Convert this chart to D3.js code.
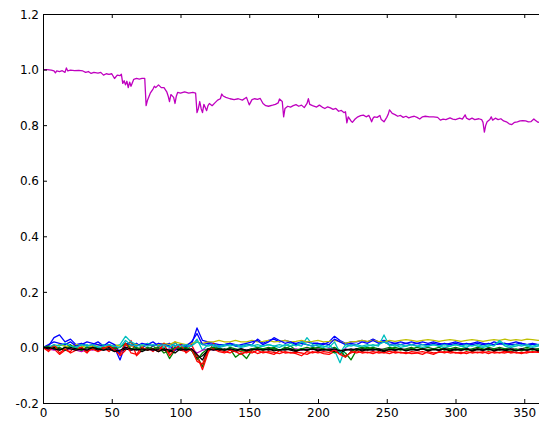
<!DOCTYPE html>
<html><head><meta charset="utf-8">
<script src="https://cdn.jsdelivr.net/npm/d3@7"></script>
<style>
html,body{margin:0;padding:0;background:#fff;overflow:hidden;}
svg{display:block;}
text{font-family:"DejaVu Sans",sans-serif;font-size:12px;fill:#000;}
</style></head>
<body>
<svg id="chart" width="539" height="421"></svg>
<script>
const xTicks = [0, 50, 100, 150, 200, 250, 300, 350];
const xTickLabels = ["0", "50", "100", "150", "200", "250", "300", "350"];
const yTicks = [1.2, 1.0, 0.8, 0.6, 0.4, 0.2, 0.0, -0.2];
const yTickLabels = ["1.2", "1.0", "0.8", "0.6", "0.4", "0.2", "0.0", "-0.2"];

const mainDays = [0,3,6,8,9,10,12,14,16,17,18,20,23,26,29,31,33,35,37,40,42,44,46,48,50,52,54,56,57,58,59,60,61,62,63,64,66,68,70,72,74,75,76,78,80,81,82,84,86,88,90,91,92,93,95,96,97,98,100,103,106,109,111,112,113,114,115,116,117,119,120,121,123,125,127,129,130,131,133,136,139,142,145,147,148,150,152,154,156,158,160,162,164,167,169,171,172,174,175,176,178,180,182,184,186,188,190,192,193,194,196,199,201,203,205,207,209,211,213,215,217,219,220,221,222,224,225,227,229,231,233,235,237,238,239,240,241,243,245,246,248,250,251,252,254,256,258,260,262,264,266,268,270,272,274,276,278,281,284,287,289,291,293,296,298,300,303,305,307,308,310,312,314,317,319,320,321,322,323,325,326,327,329,331,333,335,337,339,341,343,345,347,349,351,353,355,357,358,360,362,364];
const mainValues = [1.0,1.0,0.998,0.995,0.988,0.995,0.993,0.996,0.99,1.006,0.995,0.998,0.996,0.997,0.995,0.99,0.993,0.986,0.99,0.987,0.99,0.98,0.985,0.983,0.985,0.968,0.98,0.978,0.983,0.95,0.96,0.945,0.958,0.935,0.955,0.94,0.965,0.968,0.966,0.968,0.968,0.87,0.89,0.915,0.93,0.94,0.935,0.945,0.935,0.935,0.92,0.905,0.885,0.91,0.9,0.878,0.905,0.918,0.915,0.92,0.915,0.918,0.915,0.845,0.86,0.885,0.86,0.845,0.875,0.852,0.87,0.878,0.87,0.88,0.89,0.895,0.912,0.905,0.9,0.895,0.892,0.895,0.89,0.897,0.9,0.873,0.892,0.895,0.893,0.896,0.878,0.87,0.868,0.872,0.875,0.88,0.894,0.885,0.83,0.86,0.868,0.865,0.87,0.874,0.868,0.872,0.863,0.878,0.895,0.875,0.87,0.865,0.872,0.865,0.86,0.866,0.862,0.857,0.86,0.85,0.853,0.845,0.848,0.808,0.83,0.815,0.81,0.822,0.83,0.834,0.836,0.83,0.835,0.825,0.812,0.825,0.83,0.828,0.835,0.82,0.812,0.828,0.838,0.855,0.842,0.838,0.832,0.835,0.828,0.832,0.826,0.83,0.832,0.828,0.822,0.83,0.832,0.83,0.83,0.828,0.818,0.822,0.82,0.826,0.822,0.82,0.825,0.822,0.837,0.825,0.82,0.825,0.82,0.823,0.82,0.81,0.775,0.8,0.812,0.82,0.83,0.818,0.825,0.82,0.823,0.815,0.812,0.805,0.802,0.81,0.812,0.815,0.816,0.815,0.812,0.813,0.822,0.818,0.81,0.812,0.808];

const noiseDays = d3.range(0, 365, 4);
const blueValues = [0,0.005,0.035,0.045,0.02,0.03,0.01,0.015,0.005,0.01,
0.02,0.005,0.01,0.0,-0.045,0.01,0.005,0.015,0.0,0.01,
0.02,0.005,0.01,0.015,0.005,0.01,0.0,0.01,0.07,0.025,
0.02,0.015,0.01,0.01,0.015,0.01,0.005,0.01,0.01,0.03,
0.015,0.025,0.03,0.02,0.025,0.02,0.015,0.02,0.02,0.015,
0.015,0.01,0.02,0.04,0.025,0.015,0.02,0.02,0.025,0.02,
0.03,0.02,0.025,0.02,0.015,0.02,0.015,0.02,0.015,0.02,
0.015,0.02,0.015,0.01,0.015,0.02,0.015,0.01,0.015,0.02,
0.015,0.01,0.02,0.015,0.01,0.015,0.02,0.015,0.01,0.015,
0.01,0.015];
const greenValues = [0,-0.005,0.005,-0.01,0.0,0.01,-0.005,0.0,-0.01,0.005,
-0.005,0.0,-0.01,0.005,-0.02,0.01,0.02,-0.005,0.0,-0.01,
0.005,-0.01,0.0,-0.04,-0.01,0.0,-0.005,-0.01,-0.03,-0.07,
-0.01,-0.005,0.0,-0.01,-0.005,-0.035,-0.02,-0.04,-0.01,-0.005,
-0.01,-0.005,0.0,-0.01,-0.005,0.005,-0.01,-0.005,-0.01,0.0,
-0.005,-0.01,-0.005,0.0,-0.01,-0.02,-0.045,-0.01,-0.005,0.0,
-0.005,-0.01,-0.005,0.0,-0.005,-0.01,-0.005,0.0,-0.01,-0.005,
0.0,-0.005,-0.01,0.0,-0.005,-0.01,-0.005,0.0,-0.015,-0.005,
-0.01,0.0,-0.005,-0.01,-0.005,0.0,-0.01,-0.005,0.0,-0.005,
-0.005,0.0];
const redValues = [0,-0.01,-0.005,-0.025,-0.01,-0.015,0.01,-0.005,-0.02,0.005,
-0.01,0.0,-0.015,0.005,-0.03,-0.01,0.025,-0.03,-0.01,0.0,
-0.015,0.005,-0.01,-0.02,0.02,-0.01,-0.015,0.01,-0.03,-0.08,
-0.02,0.015,-0.01,-0.015,-0.02,-0.01,-0.015,-0.02,-0.012,-0.022,
-0.015,-0.02,-0.025,-0.012,-0.02,-0.018,-0.022,-0.03,-0.015,-0.02,
-0.015,-0.022,-0.025,-0.015,-0.02,-0.03,-0.02,-0.012,-0.02,-0.017,
-0.022,-0.015,-0.02,-0.013,-0.02,-0.017,-0.022,-0.015,-0.018,-0.015,
-0.02,-0.025,-0.015,-0.02,-0.013,-0.02,-0.017,-0.022,-0.015,-0.02,
-0.015,-0.022,-0.015,-0.02,-0.013,-0.02,-0.017,-0.022,-0.015,-0.018,
-0.015,-0.02];
const cyanValues = [0,0.005,0.0,0.01,0.005,0.0,0.01,0.005,0.01,0.0,
0.005,0.01,0.0,0.005,0.01,0.04,0.02,0.01,0.005,0.015,
0.005,0.01,0.0,0.01,0.005,0.01,0.0,0.005,0.03,-0.01,
0.01,0.005,0.0,0.005,0.01,0.005,0.0,0.005,0.01,0.0,
0.005,0.01,0.005,0.0,0.01,0.005,0.01,0.005,0.035,0.01,
0.005,0.0,0.01,-0.01,-0.055,0.0,0.01,0.005,0.0,0.005,
0.01,0.005,0.045,0.005,0.01,0.0,0.005,0.01,0.005,0.0,
0.005,0.01,0.005,0.0,0.005,0.01,0.005,0.0,0.01,0.005,
0.0,0.005,0.01,0.02,0.005,0.0,0.005,0.01,0.005,0.0,
0.005,0.01];
const magentaValues = [0,-0.005,-0.01,-0.005,-0.01,-0.005,-0.01,-0.015,-0.005,-0.01,
-0.005,-0.01,-0.005,-0.01,-0.015,-0.005,-0.01,-0.005,-0.01,-0.005,
-0.01,-0.005,-0.01,-0.005,-0.01,-0.005,-0.01,-0.005,-0.02,-0.01,
-0.005,-0.01,-0.005,-0.01,-0.005,-0.01,-0.005,-0.01,-0.005,-0.01,
-0.005,-0.008,-0.005,-0.01,-0.005,-0.008,-0.005,-0.01,-0.005,-0.008,
-0.005,-0.01,-0.005,-0.008,-0.015,-0.005,-0.01,-0.005,-0.008,-0.005,
-0.01,-0.005,-0.008,-0.005,-0.01,-0.005,-0.008,-0.005,-0.01,-0.005,
-0.008,-0.005,-0.01,-0.005,-0.008,-0.005,-0.01,-0.005,-0.008,-0.005,
-0.01,-0.005,-0.008,-0.005,-0.01,-0.005,-0.008,-0.005,-0.01,-0.005,
-0.008,-0.005];
const yellowValues = [0,0.005,0.0,0.01,0.005,0.0,0.01,0.005,0.0,0.005,
0.01,0.005,0.0,0.01,0.005,0.01,0.005,0.01,0.005,0.01,
0.005,0.01,0.015,0.01,0.02,0.015,0.01,0.015,0.02,0.015,
0.02,0.02,0.025,0.02,0.02,0.025,0.02,0.02,0.025,0.02,
0.022,0.025,0.02,0.022,0.025,0.02,0.022,0.025,0.02,0.022,
0.025,0.02,0.022,0.025,0.02,0.015,0.02,0.022,0.025,0.022,
0.025,0.022,0.02,0.025,0.022,0.025,0.028,0.025,0.022,0.025,
0.028,0.025,0.022,0.025,0.028,0.025,0.022,0.025,0.028,0.025,
0.022,0.025,0.028,0.025,0.03,0.025,0.028,0.025,0.03,0.028,
0.025,0.028];
const blackValues = [0,-0.005,0.0,-0.005,-0.01,0.0,-0.005,-0.01,0.0,-0.005,
-0.01,-0.005,0.0,-0.01,-0.015,-0.005,-0.01,-0.005,-0.015,-0.005,
-0.01,-0.005,-0.01,-0.015,-0.005,-0.01,-0.005,-0.01,-0.04,-0.03,
-0.01,-0.005,-0.01,-0.005,-0.01,-0.015,-0.005,-0.01,-0.005,-0.01,
-0.005,-0.01,-0.005,-0.01,-0.005,-0.01,-0.015,-0.005,-0.01,-0.005,
-0.01,-0.005,-0.01,-0.015,-0.02,-0.01,-0.005,-0.01,-0.005,-0.01,
-0.005,-0.01,-0.015,-0.005,-0.01,-0.005,-0.01,-0.005,-0.01,-0.005,
-0.01,-0.005,-0.01,-0.005,-0.01,-0.005,-0.01,-0.005,-0.01,-0.005,
-0.01,-0.005,-0.01,-0.005,-0.01,-0.015,-0.01,-0.005,-0.01,-0.005,
-0.01,-0.005];
const blue2Values = [0,0.01,0.02,0.015,0.01,0.02,0.005,0.01,0.02,0.015,
0.01,0.005,0.02,0.01,-0.02,0.015,0.01,0.005,0.015,0.01,
0.005,0.015,0.01,0.005,-0.01,0.01,0.005,0.02,0.05,0.01,
0.015,0.01,0.005,0.01,0.015,0.005,0.01,0.015,0.02,0.025,
0.01,0.02,0.035,0.025,0.015,0.02,0.01,0.015,0.01,0.005,
0.01,0.015,0.01,0.03,0.02,0.01,0.015,0.01,0.02,0.015,
0.025,0.015,0.02,0.01,0.015,0.01,0.015,0.01,0.015,0.01,
0.01,0.015,0.01,0.015,0.01,0.015,0.01,0.015,0.01,0.015,
0.01,0.015,0.01,0.012,0.015,0.01,0.012,0.015,0.01,0.012,
0.01,0.012];
const green2Values = [0,0.005,-0.005,0.0,-0.01,0.005,0.0,-0.01,0.0,-0.005,
0.0,-0.01,0.005,-0.005,0.0,0.015,-0.005,0.0,-0.01,0.0,
-0.005,0.0,-0.02,-0.01,0.0,-0.005,0.0,-0.01,-0.045,-0.02,
-0.005,0.0,-0.005,-0.01,0.0,-0.005,-0.01,-0.015,-0.005,0.0,
-0.005,0.0,-0.005,-0.01,0.0,-0.005,-0.01,-0.005,0.0,-0.005,
0.0,-0.005,-0.01,-0.02,-0.01,-0.035,-0.015,-0.005,0.0,-0.005,
0.0,-0.005,-0.01,-0.005,0.0,-0.005,-0.01,-0.005,0.0,-0.005,
-0.01,-0.005,0.0,-0.01,-0.005,0.0,-0.005,-0.01,-0.005,0.0,
-0.005,-0.01,-0.005,0.0,-0.005,-0.01,-0.005,-0.012,-0.005,-0.01,
-0.005,-0.01];
const red2Values = [0,-0.015,0.01,-0.02,-0.005,-0.02,-0.01,0.0,-0.015,-0.005,
-0.015,-0.005,0.005,-0.01,-0.025,0.015,-0.02,-0.025,0.0,-0.01,
-0.005,-0.015,0.015,-0.03,-0.005,0.01,-0.02,-0.005,-0.05,-0.06,
-0.01,-0.005,-0.015,-0.02,-0.01,-0.015,-0.025,-0.015,-0.02,-0.01,
-0.02,-0.015,-0.018,-0.022,-0.015,-0.02,-0.017,-0.02,-0.025,-0.015,
-0.02,-0.015,-0.018,-0.01,-0.025,-0.035,-0.015,-0.02,-0.015,-0.02,
-0.015,-0.02,-0.018,-0.022,-0.015,-0.02,-0.018,-0.022,-0.02,-0.025,
-0.015,-0.02,-0.018,-0.015,-0.02,-0.018,-0.022,-0.015,-0.02,-0.017,
-0.02,-0.015,-0.02,-0.018,-0.02,-0.015,-0.02,-0.018,-0.02,-0.015,
-0.018,-0.015];
const cyan2Values = [0,0.0,0.01,0.005,0.015,0.005,0.0,0.01,0.005,0.01,
0.0,0.005,0.01,0.005,0.0,0.025,0.01,0.005,0.01,0.005,
0.01,0.005,0.01,0.0,0.015,0.005,0.01,0.005,0.02,0.01,
0.005,0.01,0.005,0.01,0.005,0.01,0.005,0.01,0.005,0.01,
0.005,0.01,0.005,0.01,0.005,0.015,0.005,0.02,0.01,0.005,
0.01,0.005,0.0,0.02,-0.02,0.01,0.005,0.01,0.005,0.01,
0.005,0.01,0.02,0.01,0.005,0.01,0.005,0.01,0.005,0.01,
0.005,0.01,0.005,0.01,0.005,0.01,0.005,0.01,0.005,0.01,
0.005,0.01,0.005,0.025,0.01,0.005,0.01,0.005,0.01,0.005,
0.01,0.005];
const black2Values = [0,0.0,-0.005,-0.01,0.0,-0.005,-0.01,-0.005,-0.01,0.0,
-0.005,-0.01,-0.005,-0.015,-0.01,0.0,-0.005,-0.01,-0.005,-0.01,
-0.005,-0.015,-0.005,-0.01,-0.02,-0.005,-0.01,-0.005,-0.025,-0.045,
-0.005,-0.01,-0.005,-0.01,-0.005,-0.01,-0.005,-0.012,-0.008,-0.005,
-0.01,-0.005,-0.012,-0.008,-0.01,-0.005,-0.012,-0.008,-0.01,-0.005,
-0.012,-0.008,-0.01,-0.005,-0.012,-0.008,-0.01,-0.005,-0.012,-0.008,
-0.01,-0.005,-0.012,-0.008,-0.01,-0.005,-0.012,-0.008,-0.01,-0.005,
-0.012,-0.008,-0.01,-0.005,-0.012,-0.008,-0.01,-0.005,-0.012,-0.008,
-0.01,-0.005,-0.012,-0.008,-0.01,-0.005,-0.012,-0.008,-0.01,-0.005,
-0.012,-0.008];

const noiseSeries = [
  {name: "b", values: blueValues, color: "#0000ff"},
  {name: "g", values: greenValues, color: "#008000"},
  {name: "r", values: redValues, color: "#ff0000"},
  {name: "c", values: cyanValues, color: "#00bfbf"},
  {name: "m", values: magentaValues, color: "#bf00bf"},
  {name: "y", values: yellowValues, color: "#bfbf00"},
  {name: "k", values: blackValues, color: "#000000"},
  {name: "b2", values: blue2Values, color: "#0000ff"},
  {name: "g2", values: green2Values, color: "#008000"},
  {name: "r2", values: red2Values, color: "#ff0000"},
  {name: "c2", values: cyan2Values, color: "#00bfbf"},
  {name: "k2", values: black2Values, color: "#000000"}
];

const svg = d3.select("#chart");
const mLeft = 43, mTop = 14, mBottom = 403;
const x = d3.scaleLinear().domain([0, 400]).range([mLeft, mLeft + 550]);
const y = d3.scaleLinear().domain([-0.2, 1.2]).range([mBottom, mTop]);

svg.append("defs").append("clipPath").attr("id", "clip")
  .append("rect").attr("x", mLeft).attr("y", mTop).attr("width", 550).attr("height", mBottom - mTop);

const plot = svg.append("g").attr("clip-path", "url(#clip)");
const line = d3.line().x(d => x(d[0])).y(d => y(d[1]));

plot.append("path")
  .datum(mainDays.map((d, i) => [d, mainValues[i]]))
  .attr("fill", "none").attr("stroke", "#bf00bf").attr("stroke-width", 1.3)
  .attr("stroke-linejoin", "round")
  .attr("d", line);

noiseSeries.forEach(s => {
  plot.append("path")
    .datum(noiseDays.map((d, i) => [d, s.values[i]]))
    .attr("fill", "none").attr("stroke", s.color).attr("stroke-width", 1.3)
    .attr("stroke-linejoin", "round")
    .attr("d", line);
});

const xAxis = d3.axisBottom(x).tickValues(xTicks).tickFormat((d, i) => xTickLabels[i])
  .tickSizeInner(-4).tickSizeOuter(0).tickPadding(5);
const gx = svg.append("g").attr("transform", `translate(0,${mBottom})`).call(xAxis);
const yAxis = d3.axisLeft(y).tickValues(yTicks).tickFormat((d, i) => yTickLabels[i])
  .tickSizeInner(-4).tickSizeOuter(0).tickPadding(4);
const gy = svg.append("g").attr("transform", `translate(${mLeft},0)`).call(yAxis);
const gxTop = svg.append("g").attr("transform", `translate(0,${mTop})`)
  .call(d3.axisTop(x).tickValues(xTicks).tickFormat("").tickSizeInner(-4).tickSizeOuter(0));
[gx, gy, gxTop].forEach(g => {
  g.select(".domain").remove();
  g.selectAll("line").attr("stroke", "#000");
  g.selectAll("text").style("font-family", "'DejaVu Sans', sans-serif").style("font-size", "12px").attr("fill", "#000");
});
gx.selectAll("text").attr("dy", "0.71em");
gy.selectAll("text").attr("dy", "0.35em");

svg.append("line").attr("x1", mLeft).attr("x2", 539).attr("y1", mTop + 0.5).attr("y2", mTop + 0.5).attr("stroke", "#000");
svg.append("line").attr("x1", mLeft).attr("x2", 539).attr("y1", mBottom + 0.5).attr("y2", mBottom + 0.5).attr("stroke", "#000");
svg.append("line").attr("x1", mLeft + 0.5).attr("x2", mLeft + 0.5).attr("y1", mTop).attr("y2", mBottom + 1).attr("stroke", "#000");
</script>
</body></html>
